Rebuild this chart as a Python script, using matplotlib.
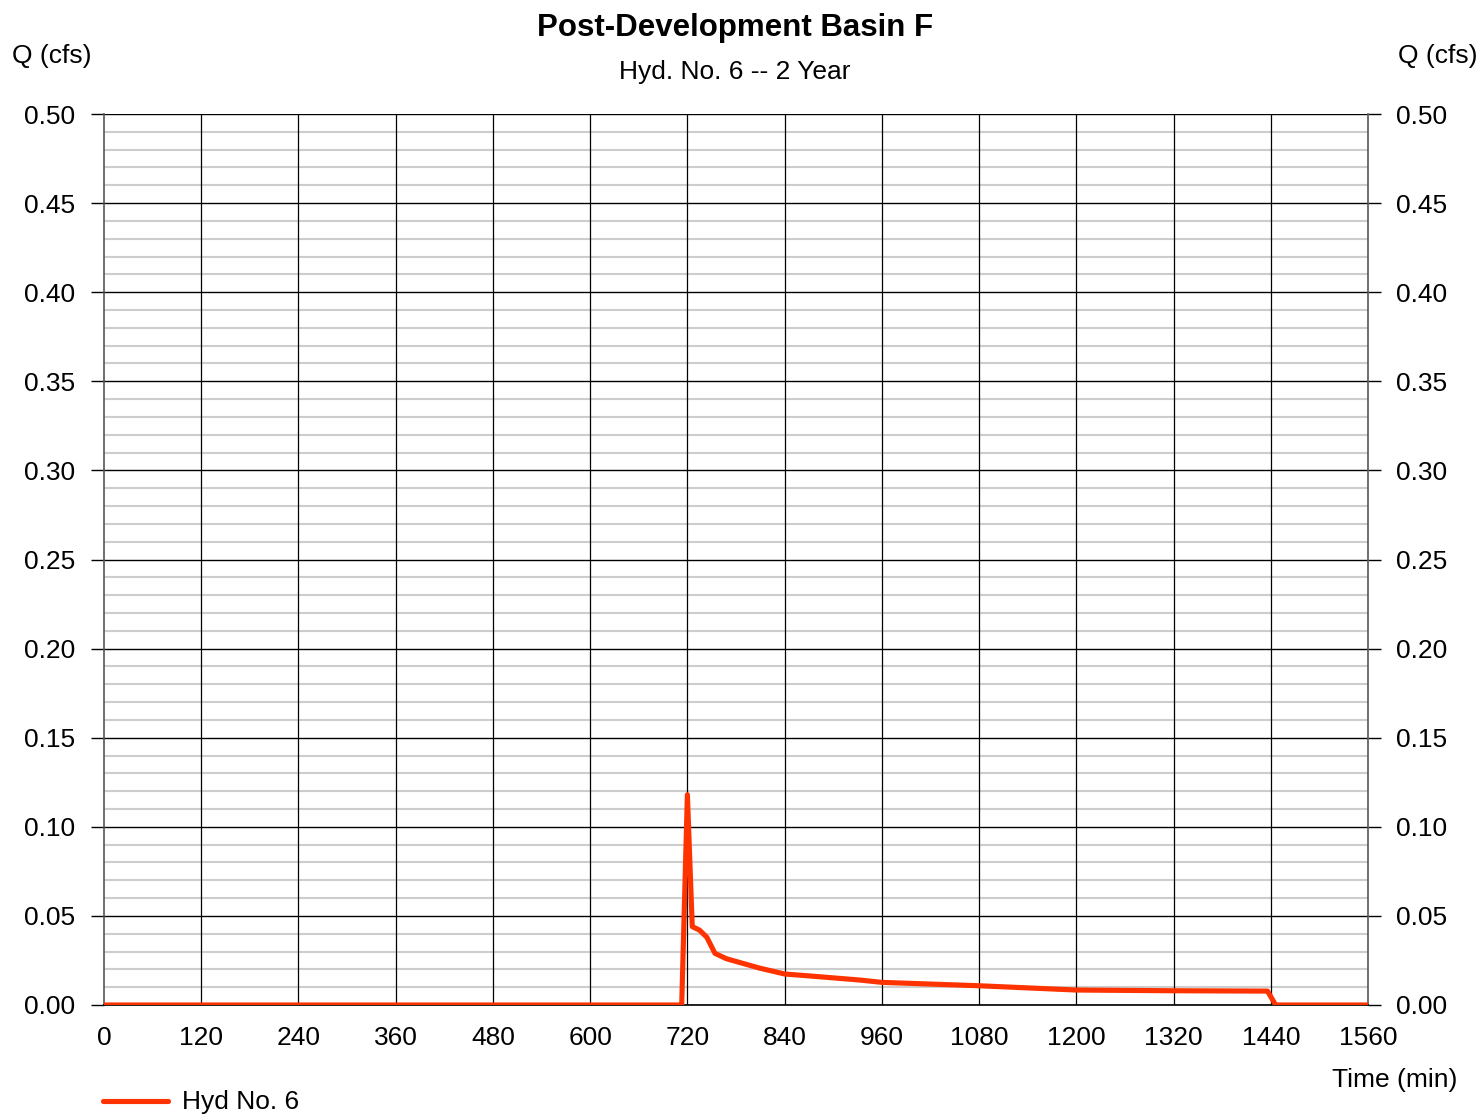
import matplotlib
matplotlib.use("Agg")
import matplotlib.pyplot as plt
from matplotlib.ticker import MultipleLocator, FormatStrFormatter

plt.rcParams['font.family'] = ['Liberation Sans', 'DejaVu Sans']

# Hydrograph ordinates: time (min) and flow Q (cfs)
time_min = [0, 713, 720, 726, 735, 744, 754, 768, 785, 810, 840, 871, 933,
            960, 1080, 1200, 1320, 1436, 1446, 1560]
flow_cfs = [0.0, 0.0, 0.118, 0.044, 0.042, 0.038, 0.029, 0.026, 0.0238, 0.0206,
            0.0174, 0.0163, 0.0140, 0.0127, 0.0108, 0.0084, 0.0080, 0.0078, 0.0, 0.0]

x_ticks = [0, 120, 240, 360, 480, 600, 720, 840, 960, 1080, 1200, 1320, 1440, 1560]
y_ticks = [0.00, 0.05, 0.10, 0.15, 0.20, 0.25, 0.30, 0.35, 0.40, 0.45, 0.50]

title = "Post-Development Basin F"
subtitle = "Hyd. No. 6 -- 2 Year"
series_name = "Hyd No. 6"
line_color = "#ff3300"

W, H = 1481, 1114
fig = plt.figure(figsize=(W / 100, H / 100), dpi=100)
ax = fig.add_axes([104 / W, 1 - 1005 / H, (1368 - 104) / W, (1005 - 114) / H])

ax.set_xlim(0, 1560)
ax.set_ylim(0, 0.5)
ax.set_xticks(x_ticks)
ax.set_yticks(y_ticks)
ax.yaxis.set_minor_locator(MultipleLocator(0.01))

# grid: light minor lines, black major lines; vertical lines drawn on top
ax.grid(which='minor', axis='y', color='#cdcdcd', linewidth=1.5)
ax.grid(which='major', axis='y', color='black', linewidth=1.0)
for xt in x_ticks[1:-1]:
    ax.axvline(xt, color='black', linewidth=0.9, zorder=2)

for s in ax.spines.values():
    s.set_color('#555555')
    s.set_linewidth(1.2)
ax.spines['bottom'].set_color('black')
ax.spines['top'].set_visible(False)

ax.tick_params(axis='y', which='major', length=9.5, width=1.0, color='black',
               labelsize=19, pad=11, left=True, right=True,
               labelleft=True, labelright=True)
ax.tick_params(axis='y', which='minor', length=0)
ax.tick_params(axis='x', which='major', length=0, labelsize=19, pad=15)
ax.yaxis.set_major_formatter(FormatStrFormatter('%.2f'))

ax.plot(time_min, flow_cfs, color=line_color, linewidth=3.7, zorder=5,
        solid_joinstyle='round', solid_capstyle='round', label=series_name)

fig.text(735 / W, 1 - 28 / H, title, ha='center', va='center',
         fontsize=22.5, fontweight='bold')
fig.text(735 / W, 1 - 72 / H, subtitle, ha='center', va='center', fontsize=19)
fig.text(12 / W, 1 - 56 / H, "Q (cfs)", ha='left', va='center', fontsize=19)
fig.text(1478 / W, 1 - 56 / H, "Q (cfs)", ha='right', va='center', fontsize=19)
fig.text(1457 / W, 1 - 1080 / H, "Time (min)", ha='right', va='center', fontsize=19)

# legend entry drawn below the plot
fig.add_artist(plt.Line2D([103 / W, 168 / W], [1 - 1101 / H, 1 - 1101 / H],
                          color=line_color, linewidth=3.7, solid_capstyle='round',
                          transform=fig.transFigure))
fig.text(182 / W, 1 - 1102 / H, series_name, ha='left', va='center', fontsize=19)

fig.savefig("out.png", dpi=100)
